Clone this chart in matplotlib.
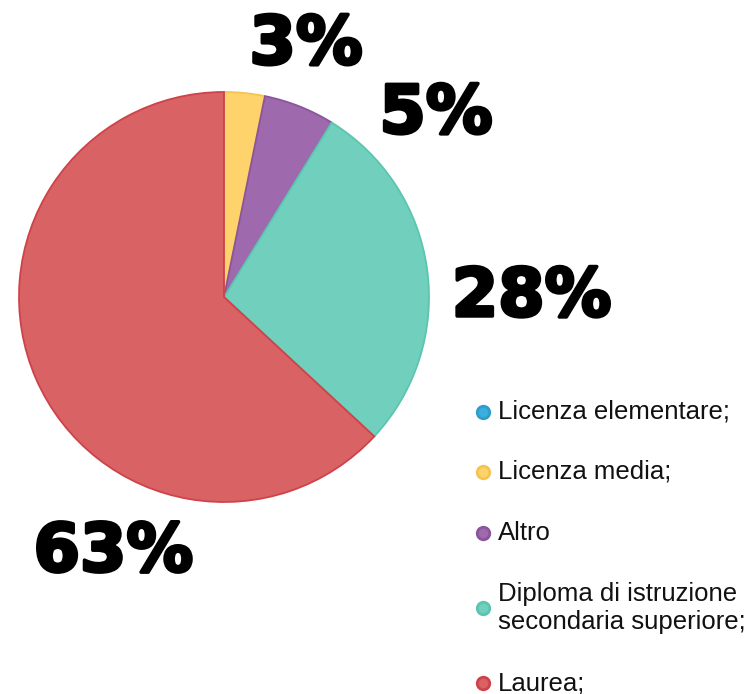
import matplotlib.pyplot as plt
import matplotlib.patheffects as pe

categories = ['Licenza elementare;', 'Licenza media;', 'Altro',
              'Diploma di istruzione\nsecondaria superiore;', 'Laurea;']
values = [0.0, 3.2, 5.6, 28.1, 63.1]
pct_labels = ['', '3%', '5%', '28%', '63%']
colors = ['#3aaede', '#fed36b', '#9e69ad', '#71cfbd', '#d96265']
edges = ['#2f9ccc', '#f5c450', '#8a559b', '#5cc5b0', '#cf4249']

# label positions in pie units (radius = 1)
label_pos = [None, (0.40, 1.23), (1.034, 0.893), (1.50, 0.0), (-0.54, -1.245)]

W, H = 756, 694
fig = plt.figure(figsize=(W / 100, H / 100), dpi=100)
cx, cy, r = 224, 297, 205
ax = fig.add_axes([(cx - r) / W, 1 - (cy + r) / H, 2 * r / W, 2 * r / H])

wedges, _ = ax.pie(values, colors=colors, startangle=90, counterclock=False,
                   radius=1, wedgeprops=dict(linewidth=1.3))
for w, ec in zip(wedges, edges):
    w.set_edgecolor(ec)
ax.set_xlim(-1, 1)
ax.set_ylim(-1, 1)
ax.set_aspect('equal')

for txt, pos in zip(pct_labels, label_pos):
    if pos is None:
        continue
    ax.text(pos[0], pos[1], txt, ha='center', va='center', fontsize=48,
            fontweight='bold', family='DejaVu Sans', color='black',
            clip_on=False,
            path_effects=[pe.withStroke(linewidth=2.5, foreground='black')])

# legend, drawn by hand
leg_y = [412, 472, 533, 608, 683]
for name, col, ec, y in zip(categories, colors, edges, leg_y):
    fy = 1 - y / H
    fig.add_artist(plt.Line2D([483 / W], [fy], marker='o', markersize=9,
                              markerfacecolor=col, markeredgecolor=ec,
                              markeredgewidth=2, linestyle='none'))
    fig.text(498 / W, fy, name, ha='left', va='center', fontsize=18.5,
             family='Liberation Sans', color='#111111', linespacing=1.2)

fig.savefig('out.png', dpi=100)
